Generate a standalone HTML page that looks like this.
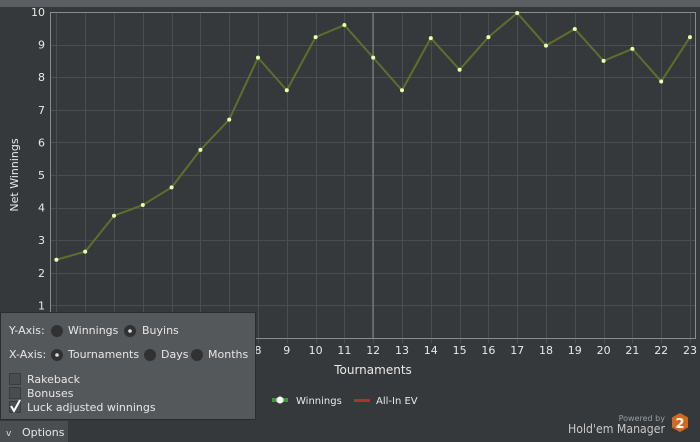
<!DOCTYPE html>
<html><head><style>
body{margin:0;width:700px;height:442px;overflow:hidden;background:#36393c;font-family:"DejaVu Sans","Liberation Sans",sans-serif;}
</style></head><body>
<svg width="700" height="442" style="position:absolute;left:0;top:0" font-family="DejaVu Sans, Liberation Sans, sans-serif">
<rect x="0" y="0" width="700" height="7" fill="#5c5f62"/>
<rect x="0" y="7" width="700" height="435" fill="#36393c"/>
<g id="grid" stroke="#4b4e51" stroke-width="1"></g>
<line x1="373" y1="12" x2="373" y2="338" stroke="#8a8c8e"/>
<rect x="50.5" y="12.5" width="645" height="326" fill="none" stroke="#8a8c8e"/>
<g id="ylab" fill="#e8e8e8" font-size="11" text-anchor="end"></g>
<g id="xlab" fill="#e8e8e8" font-size="11" text-anchor="middle"></g>
<polyline id="line" fill="none" stroke="#5c6f2c" stroke-width="2"/>
<g id="pts" fill="#e6ffb0"></g>
<text x="18" y="175" fill="#e8e8e8" font-size="11" text-anchor="middle" transform="rotate(-90 18 175)">Net Winnings</text>
<text x="373" y="374" fill="#e8e8e8" font-size="12" text-anchor="middle">Tournaments</text>
<rect x="272" y="398" width="16" height="4" fill="#3a9a3a"/><circle cx="280" cy="400" r="3.5" fill="#fff"/>
<text x="296" y="404" fill="#e8e8e8" font-size="10">Winnings</text>
<rect x="354" y="399" width="16" height="3" fill="#b03030"/>
<text x="376" y="404" fill="#e8e8e8" font-size="10">All-In EV</text>
<text x="665" y="421" fill="#9a9c9e" font-size="8" text-anchor="end">Powered by</text>
<text x="665" y="433" fill="#c8c8c8" font-size="12" text-anchor="end" textLength="97" lengthAdjust="spacingAndGlyphs">Hold'em Manager</text>
<polygon points="680,413 688,417.5 688,427.5 680,432 672,427.5 672,417.5" fill="#d2691e"/>
<text x="680" y="428" fill="#fff" font-size="13" font-weight="bold" text-anchor="middle">2</text>
<rect x="0.5" y="312.5" width="255" height="107" fill="#55585b" stroke="#2a2c2e"/>
<g fill="#e6e6e6" font-size="11">
<text x="9" y="334">Y-Axis:</text>
<circle cx="57" cy="331" r="6" fill="#2f3133"/><text x="68" y="334">Winnings</text>
<circle cx="130" cy="331" r="6" fill="#2f3133"/><circle cx="130" cy="331" r="1.8" fill="#ddd"/><text x="142" y="334">Buyins</text>
<text x="9" y="358">X-Axis:</text>
<circle cx="57" cy="355" r="6" fill="#2f3133"/><circle cx="57" cy="355" r="1.8" fill="#ddd"/><text x="68" y="358">Tournaments</text>
<circle cx="150" cy="355" r="6" fill="#2f3133"/><text x="161" y="358">Days</text>
<circle cx="197" cy="355" r="6" fill="#2f3133"/><text x="208" y="358">Months</text>
<rect x="9.5" y="373.5" width="11" height="11" fill="#4a4d50" stroke="#3a3c3e"/><text x="27" y="383">Rakeback</text>
<rect x="9.5" y="387.5" width="11" height="11" fill="#4a4d50" stroke="#3a3c3e"/><text x="27" y="397">Bonuses</text>
<rect x="9.5" y="401.5" width="11" height="11" fill="#4a4d50" stroke="#3a3c3e"/><text x="27" y="411">Luck adjusted winnings</text>
<path d="M11 406 L14 411 L20 400" stroke="#fff" stroke-width="2" fill="none"/>
</g>
<rect x="0" y="421" width="68" height="21" fill="#4b4e51"/>
<text x="6" y="436" fill="#ddd" font-size="9">v</text>
<text x="22" y="436" fill="#e6e6e6" font-size="11">Options</text>
</svg>
<script>
var ns="http://www.w3.org/2000/svg";
function y(v){return 12+(10-v)*32.6;}
function x(n){return 258+(n-8)*28.8;}
var g=document.getElementById('grid'),yl=document.getElementById('ylab'),xl=document.getElementById('xlab');
for(var v=1;v<=9;v++){var l=document.createElementNS(ns,'line');l.setAttribute('x1',51);l.setAttribute('x2',695);l.setAttribute('y1',Math.round(y(v))+.5);l.setAttribute('y2',Math.round(y(v))+.5);g.appendChild(l);}
for(var v=1;v<=10;v++){var t=document.createElementNS(ns,'text');t.setAttribute('x',45);t.setAttribute('y',y(v)+4);t.textContent=v;yl.appendChild(t);}
for(var n=1;n<=23;n++){var l=document.createElementNS(ns,'line');l.setAttribute('y1',13);l.setAttribute('y2',343);l.setAttribute('x1',Math.round(x(n))+.5);l.setAttribute('x2',Math.round(x(n))+.5);g.appendChild(l);
var t=document.createElementNS(ns,'text');t.setAttribute('x',x(n));t.setAttribute('y',354);t.textContent=n;xl.appendChild(t);}
var d=[2.4,2.65,3.75,4.08,4.62,5.77,6.7,8.6,7.6,9.23,9.6,8.6,7.6,9.2,8.23,9.23,9.97,8.97,9.48,8.5,8.87,7.87,9.23];
var p=[],pg=document.getElementById('pts');
d.forEach(function(v,i){var X=x(i+1),Y=y(v);p.push(X+','+Y);var c=document.createElementNS(ns,'circle');c.setAttribute('cx',X);c.setAttribute('cy',Y);c.setAttribute('r',2);pg.appendChild(c);});
document.getElementById('line').setAttribute('points',p.join(' '));
</script>
</body></html>
